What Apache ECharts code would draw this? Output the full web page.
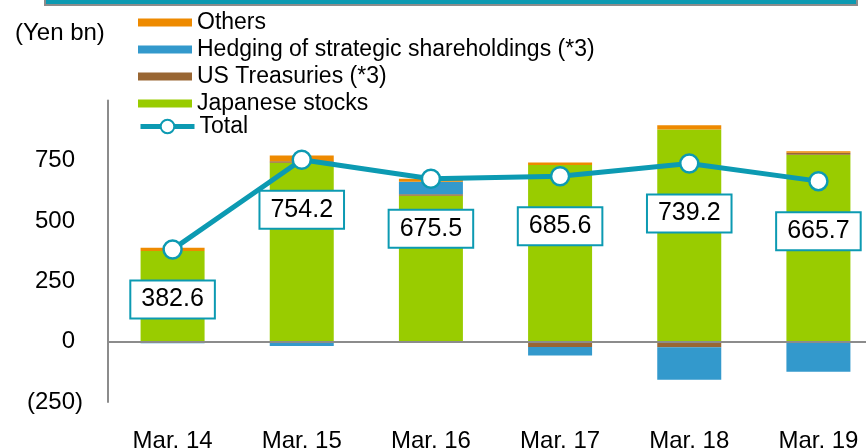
<!DOCTYPE html>
<html>
<head>
<meta charset="utf-8">
<script src="https://cdn.jsdelivr.net/npm/echarts@6/dist/echarts.min.js"></script>
<style>
html,body{margin:0;padding:0;background:#fff;}
#chart{width:866px;height:448px;}
</style>
</head>
<body>
<div id="chart"></div>
<script>
const categories = ['Mar. 14', 'Mar. 15', 'Mar. 16', 'Mar. 17', 'Mar. 18', 'Mar. 19'];
const japaneseStocks = [376, 742, 605, 733, 880, 775];
const usTreasuries = [0, 6, 6, -22, -23, 8];
const hedging = [-6.4, -18, 52, -35.4, -134.8, -124.3];
const others = [13, 24.2, 12.5, 10, 17, 7];
const total = [382.6, 754.2, 675.5, 685.6, 739.2, 665.7];
const yTicks = [-250, 0, 250, 500, 750];

const FONT = 'Liberation Sans, Arial, sans-serif';
const TEAL = '#0C9AB2';
const GRAY = '#8C8C8C';

const chart = echarts.init(document.getElementById('chart'), null, {renderer: 'canvas'});

const barSeries = (name, data, color, extra) => Object.assign({
  name: name,
  type: 'bar',
  stack: 'total',
  data: data,
  barWidth: 64,
  itemStyle: {color: color},
  emphasis: {disabled: true}
}, extra || {});

chart.setOption({
  animation: false,
  textStyle: {fontFamily: FONT},
  grid: {left: 108, top: 100.5, width: 775, height: 301.5, outerBoundsMode: 'none'},
  graphic: [
    {
      type: 'rect',
      shape: {x: 45, y: -4, width: 812, height: 9},
      style: {fill: TEAL, stroke: GRAY, lineWidth: 2}
    },
    {
      type: 'text',
      left: 15,
      top: 21,
      style: {text: '(Yen bn)', font: '24px ' + FONT, fill: '#000'}
    }
  ],
  legend: [
    {
      orient: 'vertical',
      left: 133,
      top: 6,
      itemWidth: 54,
      itemHeight: 8,
      itemGap: 4,
      selectedMode: false,
      textStyle: {fontSize: 23, lineHeight: 22, color: '#000', fontFamily: FONT},
      data: [
        {name: 'Others', icon: 'rect'},
        {name: 'Hedging of strategic shareholdings (*3)', icon: 'rect'},
        {name: 'US Treasuries (*3)', icon: 'rect'},
        {name: 'Japanese stocks', icon: 'rect'}
      ]
    },
    {
      orient: 'vertical',
      left: 133,
      top: 110,
      itemWidth: 54,
      itemHeight: 17,
      selectedMode: false,
      textStyle: {fontSize: 23, lineHeight: 22, color: '#000', fontFamily: FONT},
      data: [{
        name: 'Total',
        lineStyle: {width: 5, color: TEAL},
        itemStyle: {color: '#fff', borderColor: TEAL, borderWidth: 2}
      }]
    }
  ],
  xAxis: {
    type: 'category',
    data: categories,
    axisLine: {show: false, onZero: false},
    axisTick: {show: false},
    axisLabel: {fontSize: 24, color: '#000', margin: 27, fontFamily: FONT}
  },
  yAxis: {
    type: 'value',
    min: -250,
    max: 1000,
    interval: 250,
    axisLine: {show: true, lineStyle: {color: GRAY, width: 2}},
    axisTick: {show: false},
    splitLine: {show: false},
    axisLabel: {
      fontSize: 24,
      color: '#000',
      margin: 25,
      fontFamily: FONT,
      rich: {h: {fontSize: 24, color: 'rgba(0,0,0,0)', fontFamily: FONT}},
      formatter: function (v) {
        if (yTicks.indexOf(v) < 0) return '';
        return v < 0 ? '(' + (-v) + ')' : String(v) + '{h|)}';
      }
    }
  },
  series: [
    barSeries('Japanese stocks', japaneseStocks, '#99CC00', {
      markLine: {
        silent: true,
        symbol: 'none',
        label: {show: false},
        lineStyle: {color: GRAY, width: 2, type: 'solid'},
        data: [{yAxis: 0}],
        z: 3
      }
    }),
    barSeries('US Treasuries (*3)', usTreasuries, '#996633'),
    barSeries('Hedging of strategic shareholdings (*3)', hedging, '#3399CC'),
    barSeries('Others', others, '#EE8A00'),
    {
      name: 'Total',
      type: 'line',
      data: total,
      z: 5,
      symbol: 'circle',
      symbolSize: 18,
      lineStyle: {color: TEAL, width: 5},
      itemStyle: {color: '#fff', borderColor: TEAL, borderWidth: 2.5},
      emphasis: {disabled: true},
      label: {
        show: true,
        position: 'inside',
        offset: [0, 50],
        fontSize: 25,
        color: '#000',
        fontFamily: FONT,
        backgroundColor: '#fff',
        borderColor: TEAL,
        borderWidth: 2,
        padding: [6, 10, 5, 10],
        formatter: function (p) { return p.value.toFixed(1); }
      }
    }
  ]
});
</script>
</body>
</html>
